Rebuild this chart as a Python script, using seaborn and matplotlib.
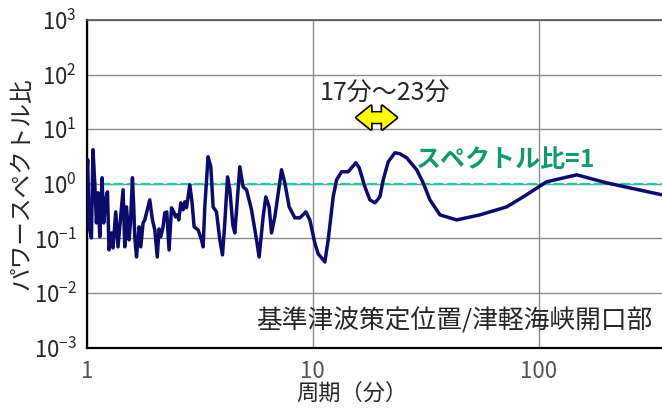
import numpy as np
import pandas as pd
import matplotlib
matplotlib.use("Agg")
import matplotlib.pyplot as plt
import matplotlib.ticker as ticker
from matplotlib.patches import FancyArrowPatch, ArrowStyle
import seaborn as sns

sns.set_style('white')
plt.rcParams['font.family'] = ['Noto Sans CJK JP', 'DejaVu Sans']
plt.rcParams['mathtext.default'] = 'regular'
plt.rcParams['axes.unicode_minus'] = True

# period (min) and power spectrum ratio
period = [1.00, 1.01, 1.024, 1.049, 1.066, 1.085, 1.104, 1.122, 1.142, 1.169,
          1.189, 1.214, 1.235, 1.255, 1.286, 1.307, 1.344, 1.375, 1.448, 1.473,
          1.499, 1.539, 1.561, 1.593, 1.614, 1.631, 1.660, 1.704, 1.734, 1.775,
          1.806, 1.900, 1.953, 2.000, 2.051, 2.089, 2.125, 2.176, 2.214, 2.259,
          2.313, 2.371, 2.427, 2.469, 2.519, 2.553, 2.606, 2.668, 2.714, 2.762,
          2.857, 2.924, 2.985, 3.109, 3.218, 3.271, 3.328, 3.441, 3.538, 3.622,
          3.749, 3.877, 3.985, 4.079, 4.195, 4.294, 4.426, 4.518, 4.753, 4.916,
          5.090, 5.355, 5.636, 5.787, 6.027, 6.194, 6.406, 6.566, 6.791, 7.271,
          7.519, 7.856, 8.326, 8.761, 9.312, 9.698, 10.20, 10.56, 11.30, 11.69,
          12.30, 12.73, 13.40, 14.33, 14.84, 15.50, 16.03, 16.99, 17.87, 18.81,
          19.80, 20.47, 21.54, 23.06, 24.27, 25.98, 28.77, 30.76, 32.94, 36.48,
          43.23, 54.82, 71.95, 85.22, 108.2, 146.9, 199.4, 350.0]
ratio = [1.46, 2.76, 0.163, 0.102, 4.21, 1.04, 0.192, 0.684, 0.107, 1.29,
         0.192, 0.508, 0.713, 0.0615, 0.126, 0.067, 0.306, 0.070, 0.776, 0.070,
         0.378, 0.094, 0.192, 1.29, 0.378, 0.107, 0.0458, 0.163, 0.070, 0.192,
         0.218, 0.508, 0.218, 0.143, 0.0458, 0.149, 0.107, 0.163, 0.294, 0.306,
         0.0615, 0.363, 0.306, 0.248, 0.270, 0.218, 0.448, 0.334, 0.468, 0.363,
         0.959, 0.448, 0.163, 0.143, 0.094, 0.070, 0.378, 3.13, 2.05, 0.378,
         0.306, 0.094, 0.0498, 0.192, 1.34, 0.776, 0.177, 0.126, 2.05, 0.881,
         0.776, 0.334, 0.094, 0.0458, 0.248, 0.577, 0.378, 0.126, 0.248, 1.81,
         1.04, 0.378, 0.238, 0.238, 0.306, 0.218, 0.0827, 0.052, 0.0371, 0.094,
         0.577, 1.18, 1.66, 1.66, 1.97, 2.43, 1.97, 0.881, 0.508, 0.448,
         0.577, 1.18, 2.53, 3.70, 3.55, 3.00, 1.81, 1.04, 0.508, 0.270,
         0.218, 0.270, 0.378, 0.577, 1.09, 1.46, 1.04, 0.628]

x_ticks = [1, 10, 100]
y_ticks = [1e-3, 1e-2, 1e-1, 1e0, 1e1, 1e2, 1e3]
band_text = '17分～23分'
band_lo, band_hi = 15.6, 23.5
ref_text = 'スペクトル比=1'
site_text = '基準津波策定位置/津軽海峡開口部'

df = pd.DataFrame({'period': period, 'ratio': ratio})

fig = plt.figure(figsize=(6.62, 4.08), dpi=100)
ax = fig.add_axes([0.131, 0.148, 0.869, 0.803])

ax.grid(True, which='major', color='#8c8c8c', lw=1.0, zorder=0)
ax.axhline(1.0, color='#22c8a0', lw=1.6, ls=(0, (4.5, 1.5)), zorder=2)

sns.lineplot(data=df, x='period', y='ratio', ax=ax, color='#0b0b6b', lw=2.5,
             estimator=None, sort=False, zorder=3)
ax.lines[-1].set_solid_joinstyle('round')

ax.set_xscale('log')
ax.set_yscale('log')
ax.set_xlim(1, 350)
ax.set_ylim(1e-3, 1e3)

ax.xaxis.set_major_locator(ticker.FixedLocator(x_ticks))
ax.xaxis.set_major_formatter(ticker.FuncFormatter(lambda v, p: f'{v:g}'))
ax.xaxis.set_minor_locator(ticker.FixedLocator(
    [m * d for d in [1, 10, 100] for m in range(2, 10) if m * d < 350]))
ax.xaxis.set_minor_formatter(ticker.NullFormatter())
ax.yaxis.set_major_locator(ticker.FixedLocator(y_ticks))
ax.yaxis.set_major_formatter(ticker.LogFormatterMathtext())
ax.yaxis.set_minor_locator(ticker.FixedLocator(
    [m * d for d in y_ticks[:-1] for m in range(2, 10)]))
ax.yaxis.set_minor_formatter(ticker.NullFormatter())

ax.tick_params(axis='x', which='major', direction='in', length=0, pad=9,
               labelsize=16, labelcolor='#555555')
ax.tick_params(axis='x', which='minor', direction='in', length=5, width=1.2, color='black')
ax.tick_params(axis='y', which='major', direction='in', length=6, width=1.2,
               pad=7, labelsize=16, color='black')
ax.tick_params(axis='y', which='minor', direction='in', length=3, width=1.0, color='black')

for side in ['left', 'bottom']:
    ax.spines[side].set_color('black')
    ax.spines[side].set_linewidth(1.6)
ax.spines['top'].set_color('#555555')
ax.spines['top'].set_linewidth(1.2)
ax.spines['right'].set_visible(False)

ax.set_xlabel('周期（分）', fontsize=16)
ax.xaxis.set_label_coords(0.461, -0.105)
ax.set_ylabel('パワースペクトル比', fontsize=17, labelpad=0)

# annotations
ax.text(20.8, 44, band_text, fontsize=18, ha='center', va='center')
mid = np.sqrt(band_lo * band_hi)
style = ArrowStyle('Simple', head_length=0.5, head_width=0.8, tail_width=0.34)
# black outline layer, then yellow fill layer overlapping at the middle
for kw, overlap in [(dict(fc='black', ec='black', lw=2.4), 1.0),
                    (dict(fc='#ffff00', ec='none', lw=0), 1.04)]:
    for end, start in [(band_lo, mid * overlap), (band_hi, mid / overlap)]:
        ax.add_patch(FancyArrowPatch((start, 16.3), (end, 16.3), arrowstyle=style,
                                     mutation_scale=21, shrinkA=0, shrinkB=0,
                                     zorder=4, **kw))

ax.text(28.3, 2.75, ref_text, fontsize=18, fontweight='bold', color='#10996f',
        ha='left', va='center')
ax.text(318, 0.0031, site_text, fontsize=18.5, ha='right', va='center')

plt.savefig('out.png', dpi=100)
